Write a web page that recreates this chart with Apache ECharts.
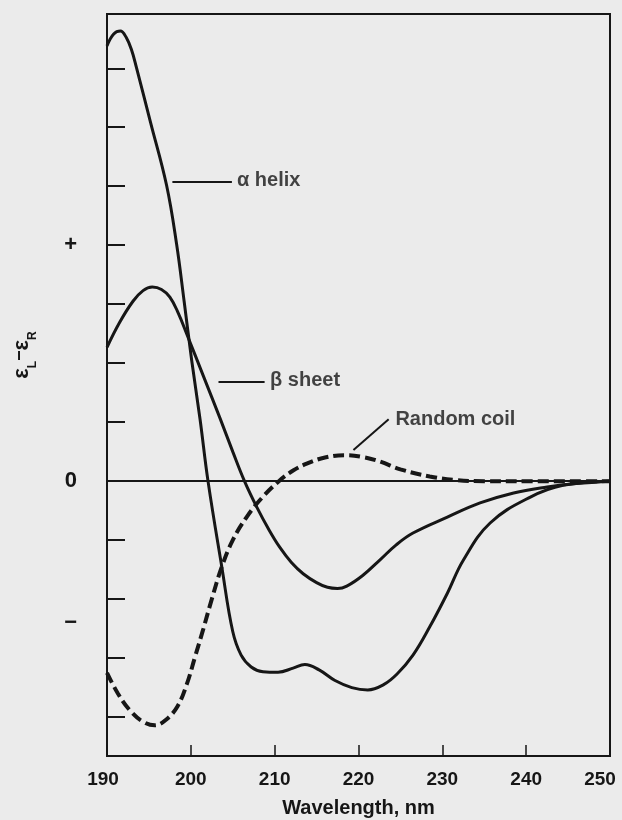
<!DOCTYPE html>
<html>
<head>
<meta charset="utf-8">
<script src="https://cdn.jsdelivr.net/npm/echarts@6/dist/echarts.min.js"></script>
<style>
html,body{margin:0;padding:0;background:#ebebeb;}
#chart{width:622px;height:820px;}
</style>
</head>
<body>
<div id="chart"></div>
<script>
// Wavelength (nm) and ellipticity values
var alphaX = [190, 190.8, 191.6, 192.3, 192.95, 193.5, 195.2, 197.1, 198.3, 199.2, 200.1, 201.1, 202.05, 203.7, 205.0, 206.0, 207.2, 208.6, 210.4, 212.2, 213.6, 215.3, 217.2, 219.2, 221.1, 223.0, 224.6, 226.5, 228.5, 230.6, 232.5, 235.7, 240.5, 244.4, 250];
var alphaY = [7.38, 7.58, 7.63, 7.52, 7.3, 7.02, 6.08, 5.02, 4.02, 3.05, 2.05, 1.05, 0, -1.46, -2.55, -2.95, -3.15, -3.23, -3.24, -3.17, -3.11, -3.2, -3.38, -3.5, -3.54, -3.45, -3.27, -2.95, -2.47, -1.9, -1.34, -0.71, -0.27, -0.07, 0];

var betaX = [190, 191.5, 193.1, 194.3, 195.4, 196.5, 197.5, 198.5, 199.5, 201.5, 203.5, 205.0, 206.4, 207.9, 209.3, 210.6, 212, 213.4, 215, 216.3, 217.5, 218.6, 220.5, 222.6, 224.5, 226.5, 230.6, 234.5, 238.5, 242.5, 246, 250];
var betaY = [2.27, 2.69, 3.05, 3.23, 3.29, 3.25, 3.12, 2.85, 2.5, 1.78, 1.06, 0.5, 0, -0.45, -0.82, -1.12, -1.38, -1.57, -1.72, -1.8, -1.82, -1.78, -1.6, -1.33, -1.08, -0.88, -0.61, -0.37, -0.2, -0.1, -0.04, 0];

var coilX = [190, 191.3, 192.7, 194.2, 195.7, 197.0, 198.4, 199.5, 200.5, 201.5, 202.5, 203.7, 205.0, 206.7, 208.5, 210.5, 212.2, 213.9, 216, 218.4, 220.5, 222.6, 225, 228.5, 231.5, 235, 240, 250];
var coilY = [-3.25, -3.6, -3.88, -4.07, -4.14, -4.05, -3.82, -3.45, -2.98, -2.5, -2.0, -1.45, -1.0, -0.6, -0.28, 0, 0.18, 0.3, 0.4, 0.44, 0.41, 0.33, 0.2, 0.08, 0.02, 0, 0, 0];

var xTicks = [190, 200, 210, 220, 230, 240, 250];
var yTickValues = [-4, -3, -2, -1, 1, 2, 3, 4, 5, 6, 7];
var yLabelValues = [4, 0, -2.4];
var yLabelTexts = ['+', '0', '\u2212'];

// Annotation labels: [x, y, text] and leader lines
var labels = [
  [205.5, 5.1, '\u03b1 helix'],
  [209.45, 1.7, '\u03b2 sheet'],
  [224.4, 1.05, 'Random coil']
];
var leaders = [
  [[197.8, 5.07], [204.9, 5.07]],
  [[203.3, 1.69], [208.8, 1.69]],
  [[219.4, 0.53], [223.6, 1.05]]
];

function pairs(xs, ys) { return xs.map(function (x, i) { return [x, ys[i]]; }); }

var INK = '#161616';
var FONT = '"Liberation Sans", Arial, Helvetica, sans-serif';

var chart = echarts.init(document.getElementById('chart'), null, {renderer: 'canvas'});
chart.setOption({
  backgroundColor: '#ebebeb',
  animation: false,
  textStyle: {fontFamily: FONT, color: INK},
  grid: {left: 107, right: 12, top: 14, bottom: 64, show: true, borderColor: INK, borderWidth: 2,
    backgroundColor: 'transparent', containLabel: false, outerBoundsMode: 'none'},
  xAxis: {
    type: 'value', min: 190, max: 250, interval: 10,
    name: 'Wavelength, nm', nameLocation: 'middle', nameGap: 42,
    nameTextStyle: {fontSize: 20, fontWeight: 'bold', color: INK, fontFamily: FONT},
    axisLine: {show: true, onZero: false, lineStyle: {color: INK, width: 2}},
    axisTick: {show: true, inside: true, length: 11, lineStyle: {color: INK, width: 1.5}},
    axisLabel: {fontSize: 19, fontWeight: 'bold', color: INK, margin: 14, fontFamily: FONT,
      formatter: function (v) {
        if (xTicks.indexOf(v) < 0) return '';
        if (v === xTicks[0]) return '{first|' + v + '}';
        if (v === xTicks[xTicks.length - 1]) return '{last|' + v + '}';
        return String(v);
      },
      rich: {
        first: {fontSize: 19, fontWeight: 'bold', color: INK, fontFamily: FONT, padding: [0, 8, 0, 0]},
        last: {fontSize: 19, fontWeight: 'bold', color: INK, fontFamily: FONT, padding: [0, 20, 0, 0]}
      }},
    splitLine: {show: false}
  },
  yAxis: {
    type: 'value', min: -4.66, max: 7.92,
    name: '{e|\u03b5}{s|L}{m|\u2212}{e|\u03b5}{s|R}', nameLocation: 'middle', nameGap: 72, nameRotate: 90,
    nameTextStyle: {
      padding: [0, 0, 0, 60],
      rich: {
        e: {fontSize: 22, fontWeight: 'bold', lineHeight: 24, verticalAlign: 'top', color: INK, fontFamily: FONT},
        m: {fontSize: 18, fontWeight: 'bold', lineHeight: 24, verticalAlign: 'top', color: INK, fontFamily: FONT},
        s: {fontSize: 12, fontWeight: 'bold', lineHeight: 12, padding: [16, 0, 0, 0], verticalAlign: 'top', color: INK, fontFamily: FONT}
      }
    },
    axisLine: {show: true, onZero: false, lineStyle: {color: INK, width: 2}},
    axisTick: {show: true, inside: true, length: 18, customValues: yTickValues, lineStyle: {color: INK, width: 2}},
    axisLabel: {show: true, customValues: yLabelValues, fontSize: 22, fontWeight: 'bold', color: INK, margin: 30, fontFamily: FONT,
      formatter: function (v) { var i = yLabelValues.indexOf(v); return i >= 0 ? yLabelTexts[i] : ''; }},
    splitLine: {show: false}
  },
  series: [
    {
      name: 'alpha', type: 'line', data: pairs(alphaX, alphaY), smooth: 0.4, showSymbol: false, silent: true,
      lineStyle: {color: INK, width: 3}, z: 3,
      markLine: {silent: true, symbol: 'none', label: {show: false}, animation: false,
        lineStyle: {color: INK, width: 2, type: 'solid'}, data: [{yAxis: 0}]}
    },
    {
      name: 'beta', type: 'line', data: pairs(betaX, betaY), smooth: 0.4, showSymbol: false, silent: true,
      lineStyle: {color: INK, width: 3}, z: 3
    },
    {
      name: 'coil', type: 'line', data: pairs(coilX, coilY), smooth: 0.4, showSymbol: false, silent: true,
      lineStyle: {color: INK, width: 4, type: [11, 5]}, z: 4
    },
    {
      name: 'leaders', type: 'line', data: [], silent: true,
      markLine: {silent: true, symbol: 'none', label: {show: false}, animation: false,
        lineStyle: {color: INK, width: 2, type: 'solid'},
        data: leaders.map(function (l) { return [{coord: l[0]}, {coord: l[1]}]; })}
    },
    {
      name: 'labels', type: 'scatter', symbolSize: 0, silent: true,
      data: labels.map(function (l) { return {value: [l[0], l[1]], name: l[2]}; }),
      label: {show: true, position: 'right', distance: 0, formatter: '{b}', fontSize: 20, fontWeight: 'bold', color: INK, fontFamily: FONT}
    }
  ]
});
</script>
</body>
</html>
